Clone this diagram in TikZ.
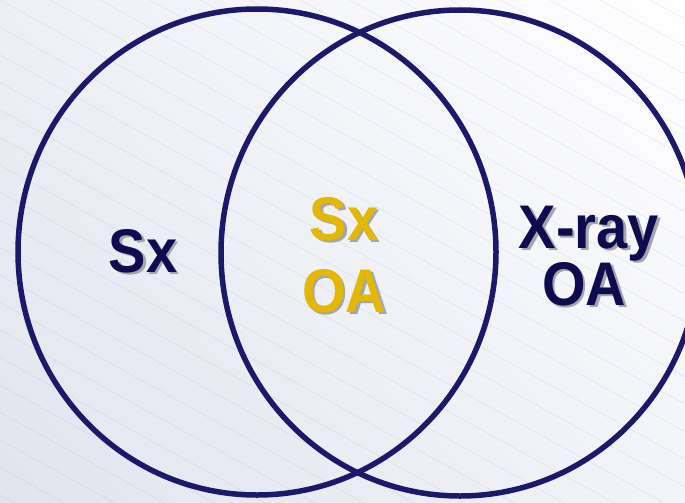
\documentclass[tikz,border=0pt]{standalone}
\usepackage{fontspec}
\setmainfont{Liberation Sans}
\definecolor{ringnavy}{RGB}{28,24,106}
\definecolor{txtnavy}{RGB}{14,12,78}
\definecolor{gold}{RGB}{226,184,0}
\definecolor{shadowgray}{RGB}{165,165,175}
\definecolor{bgA}{RGB}{226,229,240}
\definecolor{bgB}{RGB}{254,254,255}
\definecolor{hatch}{RGB}{150,152,170}
\newcommand\shadowed[2]{% colour, text
  \scalebox{1}[1.1]{\rlap{\kern2.5pt\raisebox{-2.5pt}{\textcolor{shadowgray}{#2}}}\textcolor{#1}{#2}}}
\begin{document}
\begin{tikzpicture}[x=1pt,y=-1pt,
  lbl/.style={anchor=base, inner sep=0pt, font=\fontsize{56}{60}\selectfont\bfseries},
  ring/.style={draw=ringnavy, line width=5.5pt},
  hatchline/.style={draw=hatch, line width=0.6pt, draw opacity=0.18}]
\useasboundingbox (0,0) rectangle (685,503);
\clip (0,0) rectangle (685,503);
\shade[top color=bgB, bottom color=bgA, shading angle=-45] (-100,-100) rectangle (785,603);
\foreach \c in {-1000,-950,...,700} {
  \draw[hatchline] (\c,0) -- ++(1000,550);
}
\draw[ring] (257,252) ellipse [x radius=239, y radius=243];
\draw[ring] (460,253) ellipse [x radius=239, y radius=243];
\node[lbl] (sxL) at (143,272) {\shadowed{txtnavy}{Sx}};
\node[lbl] (sxC) at (344,240) {\shadowed{gold}{Sx}};
\node[lbl] (oaC) at (344,312) {\shadowed{gold}{OA}};
\node[lbl] (xrayR) at (589,248) {\shadowed{txtnavy}{X-ray}};
\node[lbl] (oaR) at (584,305) {\shadowed{txtnavy}{OA}};
\end{tikzpicture}
\end{document}
